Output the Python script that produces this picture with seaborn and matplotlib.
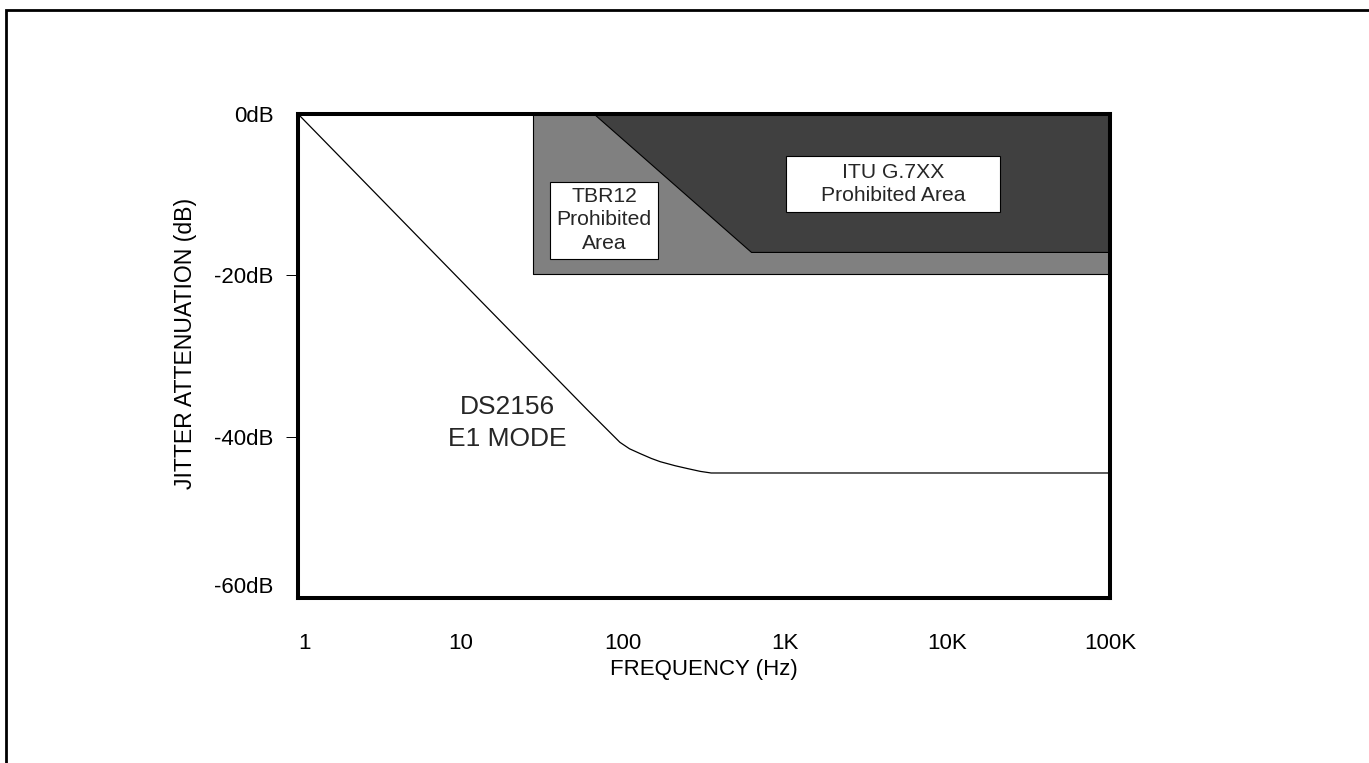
import seaborn as sns
import matplotlib.pyplot as plt
from matplotlib.patches import Rectangle
import pandas as pd

# -------------- DONNEES -------------------#

# courbe DS2156 (E1) : frequence (Hz) / attenuation (dB)
curve_freq = [1, 10, 60, 96, 110, 128, 150, 170, 210, 250, 300, 350, 100000]
curve_db = [0, -20.6, -36.6, -40.7, -41.5, -42.1, -42.7, -43.1, -43.6,
            -43.95, -44.3, -44.5, -44.5]

# zone interdite TBR12 (gris moyen)
tbr12_freq = [28, 100000]
tbr12_floor = [-19.8, -19.8]

# zone interdite ITU G.7XX (gris fonce)
itu_freq = [66.5, 616, 100000]
itu_floor = [0, -17.1, -17.1]

x_ticks = [1, 10, 100, 1000, 10000, 100000]
x_labels = ['1', '10', '100', '1K', '10K', '100K']
y_ticks = [0, -20, -40, -60]
y_labels = ['0dB', '-20dB', '-40dB', '-60dB']

# boites de texte (freq min, freq max, dB bas, dB haut)
tbr12_box = [35.6, 165, -18.0, -8.4]
itu_box = [1011, 21000, -12.1, -5.2]

# -------------- FIGURE -------------------#

sns.set_theme(style='white')
plt.rcParams['font.family'] = ['Liberation Sans', 'DejaVu Sans']

fig = plt.figure(figsize=(13.69, 7.63), dpi=100)
ax = fig.add_axes([0.2177, 0.2162, 0.5931, 0.6344])

ax.fill_between(tbr12_freq, tbr12_floor, 0, color='#808080',
                edgecolor='black', linewidth=0.8, zorder=1)
ax.fill_between(itu_freq, itu_floor, 0, color='#404040',
                edgecolor='black', linewidth=0.8, zorder=2)

df = pd.DataFrame({'freq': curve_freq, 'db': curve_db})
sns.lineplot(data=df, x='freq', y='db', color='black', linewidth=0.9,
             ax=ax, zorder=3)

# boites blanches
for box in (tbr12_box, itu_box):
    ax.add_patch(Rectangle((box[0], box[2]), box[1] - box[0], box[3] - box[2],
                           facecolor='white', edgecolor='black',
                           linewidth=0.8, zorder=4))
ax.text(76.6, -13.1, 'TBR12\nProhibited\nArea', ha='center', va='center',
        fontsize=15.2, linespacing=1.3, zorder=5)
ax.text(4613, -8.7, 'ITU G.7XX\nProhibited Area', ha='center', va='center',
        fontsize=15.2, linespacing=1.25, zorder=5)
ax.text(19.4, -38.3, 'DS2156\nE1 MODE', ha='center', va='center',
        fontsize=19, linespacing=1.38, zorder=5)

ax.set_xscale('log')
ax.set_xlim(1, 100000)
ax.set_ylim(-60, 0)
ax.set_xticks(x_ticks)
ax.set_xticklabels(x_labels)
ax.set_yticks(y_ticks)
ax.set_yticklabels(y_labels)
ax.minorticks_off()

ax.tick_params(axis='x', length=0, pad=25, labelsize=16, colors='black')
ax.tick_params(axis='y', left=True, length=8.6, width=0.7, direction='out',
               pad=9, labelsize=16, colors='black')
ticks = ax.yaxis.get_major_ticks()
ticks[0].tick1line.set_visible(False)
ticks[-1].tick1line.set_visible(False)
ax.get_yticklabels()[-1].set_va('bottom')
ax.get_xticklabels()[0].set_ha('left')

ax.set_xlabel('FREQUENCY (Hz)', fontsize=16, labelpad=4, color='black')
ax.set_ylabel('JITTER ATTENUATION (dB)', fontsize=16.6, color='black')
ax.yaxis.set_label_coords(-0.124, 0.525)

for s in ax.spines.values():
    s.set_color('black')
    s.set_linewidth(2.9)
    s.set_zorder(6)

# cadre exterieur
fig.add_artist(Rectangle((0.0044, -0.5), 1.5, 1.487, transform=fig.transFigure,
                         fill=False, edgecolor='black', linewidth=2.0))

plt.savefig('out.png', dpi=100)
plt.close()
